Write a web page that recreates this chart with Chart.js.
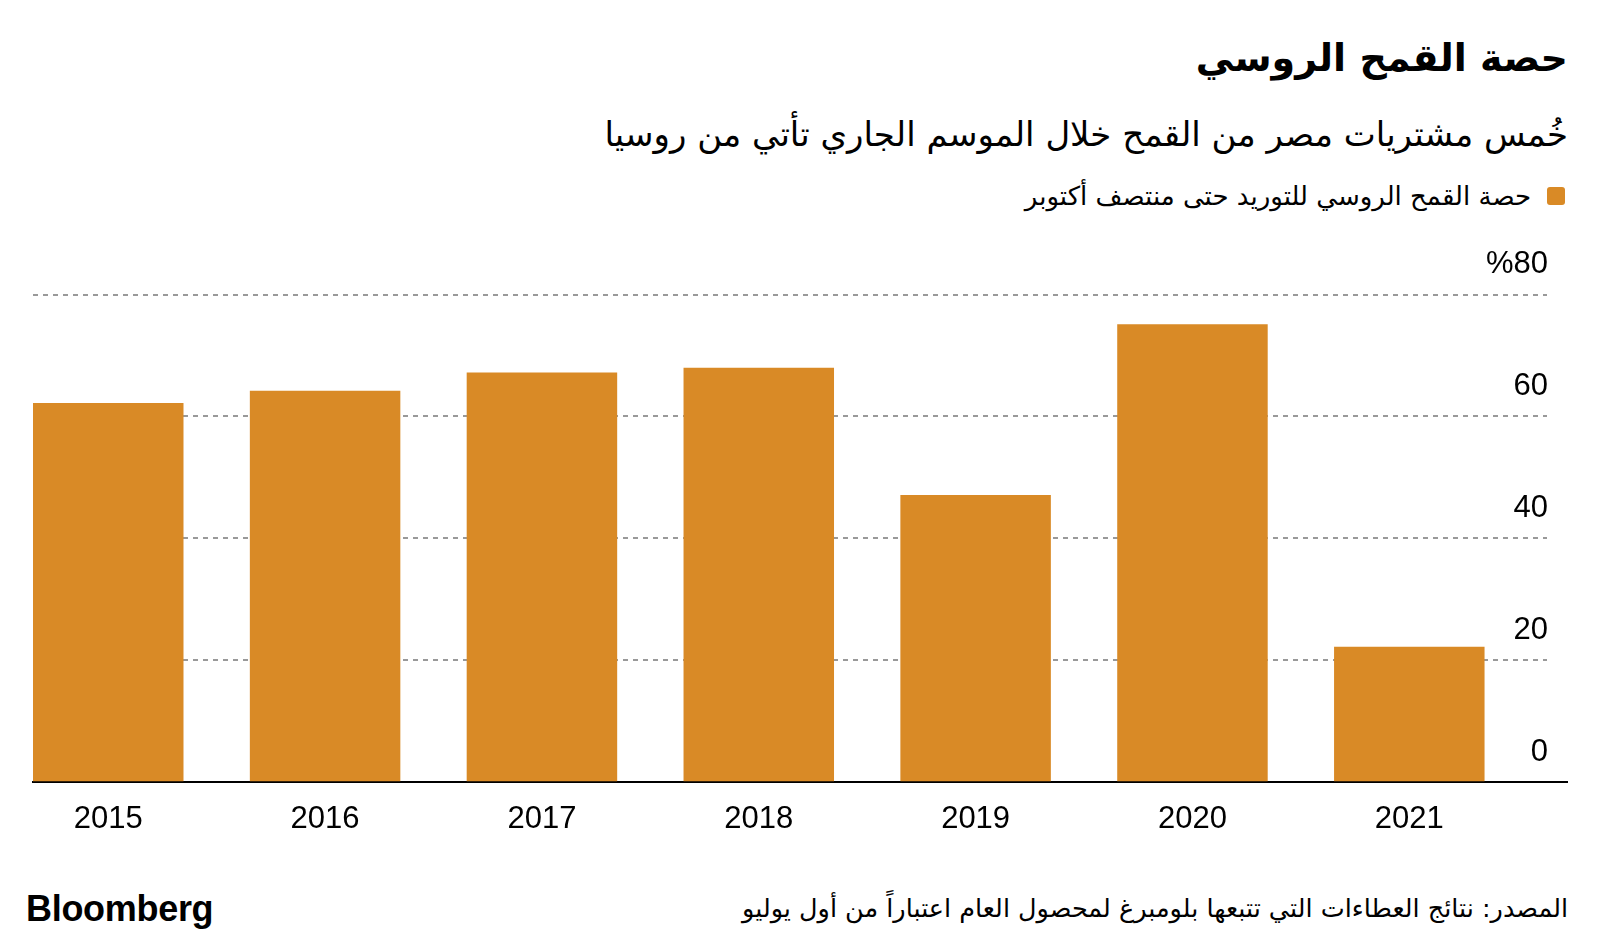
<!DOCTYPE html>
<html lang="ar">
<head>
<meta charset="utf-8">
<script src="https://cdn.jsdelivr.net/npm/chart.js@4.4.1/dist/chart.umd.min.js"></script>
<style>
  html, body { margin: 0; padding: 0; background: #fff; }
  body { width: 1600px; height: 945px; position: relative; overflow: hidden; font-family: "DejaVu Sans", sans-serif; color: #000; }
  .rtl { position: absolute; right: 32px; direction: rtl; text-align: right; white-space: nowrap; line-height: 1; }
  #title { top: 39px; font-size: 38px; font-weight: bold; }
  #subtitle { top: 117px; font-size: 34px; }
  #legend { top: 183px; right: 35px; font-size: 26px; display: flex; align-items: center; }
  #legend .box { width: 18px; height: 18px; border-radius: 3px; background: #d98a26; margin-left: 16px; }
  #source { top: 896px; font-size: 25.5px; }
  #logo { position: absolute; left: 26px; top: 891px; font-family: "Liberation Sans", Arial, sans-serif; font-weight: bold; font-size: 36px; letter-spacing: -0.3px; line-height: 1; }
  #wrap { position: absolute; left: 0; top: 230px; width: 1600px; height: 630px; }
</style>
</head>
<body>
<div id="title" class="rtl">حصة القمح الروسي</div>
<div id="subtitle" class="rtl">خُمس مشتريات مصر من القمح خلال الموسم الجاري تأتي من روسيا</div>
<div id="legend" class="rtl"><span class="box"></span><span id="legendText"></span></div>
<div id="wrap"><canvas id="chart"></canvas></div>
<div id="source" class="rtl">المصدر: نتائج العطاءات التي تتبعها بلومبرغ لمحصول العام اعتباراً من أول يوليو</div>
<div id="logo">Bloomberg</div>

<script>
// data
const years = ['2015', '2016', '2017', '2018', '2019', '2020', '2021']
const share = [62.2, 64.2, 67.2, 68.0, 47.1, 75.1, 22.2]
const yTicks = [0, 20, 40, 60, 80]
const seriesLabel = 'حصة القمح الروسي للتوريد حتى منتصف أكتوبر'

const barColor = '#d98a26'
document.getElementById('legendText').textContent = seriesLabel

const ctx = document.getElementById('chart').getContext('2d')

// bars sit on a linear x scale so the baseline can run past the last bar
let myChart = new Chart(ctx, {
  type: 'bar',
  data: {
    datasets: [{
      label: seriesLabel,
      data: share.map((v, i) => ({ x: i, y: v })),
      backgroundColor: barColor,
      borderWidth: 0,
      categoryPercentage: 1,
      barPercentage: 0.694
    }]
  },
  options: {
    responsive: true,
    maintainAspectRatio: false,
    animation: false,
    layout: { padding: { top: 64.5, bottom: 10.6, left: 33, right: 30 } },
    plugins: { legend: { display: false }, tooltip: { enabled: false } },
    scales: {
      x: {
        type: 'linear',
        offset: false,
        min: -0.347,
        max: 6.635,
        grid: { display: false },
        border: { display: true, color: '#000', width: 2 },
        ticks: {
          stepSize: 1,
          includeBounds: false,
          autoSkip: false,
          padding: 11,
          color: '#000',
          font: { family: '"Liberation Sans", Arial, sans-serif', size: 31 },
          callback: (v) => Number.isInteger(v) && years[v] ? years[v] : null
        }
      },
      y: {
        position: 'right',
        min: yTicks[0],
        max: yTicks[yTicks.length - 1],
        grid: {
          color: '#999',
          lineWidth: 2,
          drawTicks: true,
          tickLength: 21,
          tickBorderDash: [],
          // only the zero tick is shown, it carries the baseline on to the right
          tickColor: (c) => c.tick && c.tick.value === 0 ? '#000' : 'rgba(0,0,0,0)',
          tickWidth: 2
        },
        border: { display: false, dash: [5, 5] },
        ticks: {
          stepSize: 20,
          mirror: true,
          padding: 1,
          labelOffset: -30,
          color: '#000',
          font: { family: '"Liberation Sans", Arial, sans-serif', size: 31 },
          callback: (v) => v === yTicks[yTicks.length - 1] ? '%' + v : v
        }
      }
    }
  }
})
</script>
</body>
</html>
